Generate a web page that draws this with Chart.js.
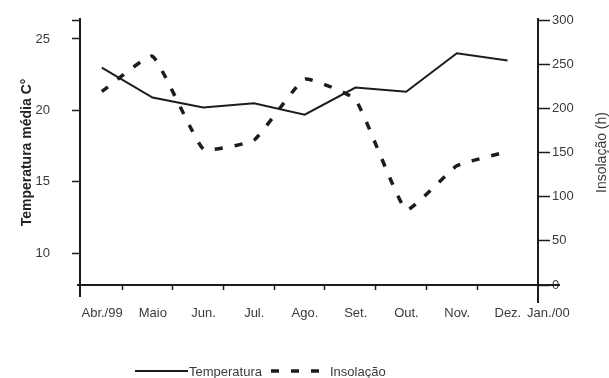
<!DOCTYPE html>
<html>
<head>
<meta charset="utf-8">
<script src="https://cdn.jsdelivr.net/npm/chart.js@4/dist/chart.umd.min.js"></script>
<style>
  html, body { margin: 0; padding: 0; background: #fff; }
  #wrap { width: 609px; height: 378px; }
</style>
</head>
<body>
<div id="wrap"><canvas id="c" width="609" height="378"></canvas></div>
<script>
// Monthly series, April 1999 to January 2000
const months = ['Abr./99', 'Maio', 'Jun.', 'Jul.', 'Ago.', 'Set.', 'Out.', 'Nov.', 'Dez.', 'Jan./00'];
const temperatura = [23.0, 20.9, 20.2, 20.5, 19.7, 21.6, 21.3, 24.0, 23.5];   // °C
const insolacao = [219, 259, 154, 164, 233, 210, 85, 135, 151];            // hours
const tempTicks = [10, 15, 20, 25];
const insolTicks = [0, 50, 100, 150, 200, 250, 300];
const seriesNames = ['Temperatura', 'Insolação'];
const axisTitles = ['Temperatura média C°', 'Insolação (h)'];

const INK = '#1c1c1c';
const TEXT = '#3a3a3a';
const FONT = "'Liberation Sans', Arial, Helvetica, sans-serif";

// x position of each month label (the last one sits just past the right axis)
const monthPos = months.map((m, i) => (i < temperatura.length ? i : 8.8));
// small tick marks sit between months; labels are pulled back onto the month
const TICK_SHIFT = 0.4;
const LABEL_SHIFT_PX = -20;

const toPoints = arr => arr.map((v, i) => ({ x: i, y: v }));

// fixed box sizes so the plot frame sits where it should
const fixBox = (w, h) => s => {
  if (w) s.width = w;
  if (h) s.height = h;
  s.paddingTop = 0; s.paddingBottom = 0; s.paddingLeft = 0; s.paddingRight = 0;
};

// axis extensions, right-hand title and the legend row
const decorations = {
  id: 'decorations',
  afterDraw(chart) {
    const { ctx, chartArea: a } = chart;
    ctx.save();
    ctx.strokeStyle = INK;
    ctx.lineWidth = 2;
    ctx.beginPath();
    ctx.moveTo(a.left - 3, a.bottom); ctx.lineTo(a.right + 22, a.bottom);
    ctx.moveTo(a.left, a.bottom); ctx.lineTo(a.left, a.bottom + 12);
    ctx.moveTo(a.right, a.bottom); ctx.lineTo(a.right, a.bottom + 18);
    ctx.moveTo(a.left, a.top); ctx.lineTo(a.left, a.top - 2);
    ctx.moveTo(a.right, a.top); ctx.lineTo(a.right, a.top - 2);
    ctx.stroke();

    // right axis title, reading upwards
    ctx.save();
    ctx.fillStyle = TEXT;
    ctx.font = `14px ${FONT}`;
    ctx.translate(602, (a.top + a.bottom) / 2);
    ctx.rotate(-Math.PI / 2);
    ctx.textAlign = 'center';
    ctx.textBaseline = 'middle';
    ctx.fillText(axisTitles[1], 0, 0);
    ctx.restore();

    // legend
    const legendY = 371;
    const slots = [{ x: 135, w: 53, gap: 1 }, { x: 271, w: 50, gap: 9 }];
    ctx.font = `13px ${FONT}`;
    ctx.fillStyle = TEXT;
    ctx.textAlign = 'left';
    ctx.textBaseline = 'middle';
    chart.data.datasets.forEach((ds, k) => {
      const s = slots[k];
      ctx.strokeStyle = ds.borderColor;
      ctx.lineWidth = ds.borderWidth;
      ctx.setLineDash(ds.borderDash || []);
      ctx.beginPath();
      ctx.moveTo(s.x, legendY);
      ctx.lineTo(s.x + s.w, legendY);
      ctx.stroke();
      ctx.setLineDash([]);
      ctx.fillText(ds.label, s.x + s.w + s.gap, legendY + 1);
    });
    ctx.restore();
  }
};

new Chart(document.getElementById('c'), {
  type: 'line',
  data: {
    datasets: [
      {
        label: seriesNames[0],
        data: toPoints(temperatura),
        yAxisID: 'yT',
        borderColor: INK,
        borderWidth: 2,
        pointRadius: 0,
        tension: 0,
        fill: false
      },
      {
        label: seriesNames[1],
        data: toPoints(insolacao),
        yAxisID: 'yI',
        borderColor: INK,
        borderWidth: 3.5,
        borderDash: [8, 12],
        pointRadius: 0,
        tension: 0.12,
        fill: false
      }
    ]
  },
  plugins: [decorations],
  options: {
    responsive: false,
    animation: false,
    events: [],
    layout: { padding: { top: 20, left: 0, right: 0, bottom: 43 } },
    plugins: {
      legend: { display: false },
      tooltip: { enabled: false }
    },
    scales: {
      x: {
        type: 'linear',
        min: -0.43,
        max: 8.6,
        afterBuildTicks: s => { s.ticks = monthPos.map(p => ({ value: p + TICK_SHIFT })); },
        afterFit: fixBox(0, 50),
        border: { display: true, color: INK, width: 2 },
        grid: {
          drawOnChartArea: false,
          drawTicks: true,
          tickLength: 5,
          tickWidth: 1.5,
          tickColor: c => (c.index < 8 ? INK : 'rgba(0,0,0,0)')
        },
        ticks: {
          autoSkip: false,
          maxRotation: 0,
          minRotation: 0,
          padding: 16,
          labelOffset: LABEL_SHIFT_PX,
          color: TEXT,
          font: { family: FONT, size: 13 },
          callback: (v, i) => months[i]
        }
      },
      yT: {
        type: 'linear',
        position: 'left',
        min: 7.76,
        max: 26.33,
        afterBuildTicks: s => { s.ticks = tempTicks.concat([s.max]).map(v => ({ value: v })); },
        afterFit: fixBox(80, 0),
        border: { display: true, color: INK, width: 2 },
        grid: { drawOnChartArea: false, tickLength: 8, tickWidth: 1.5, tickColor: INK },
        ticks: {
          padding: 22,
          color: TEXT,
          font: { family: FONT, size: 13 },
          callback: v => (tempTicks.includes(v) ? String(v) : '')
        },
        title: {
          display: true,
          text: axisTitles[0],
          color: '#222',
          font: { family: FONT, size: 14, weight: 'bold' },
          padding: { top: 19, bottom: 0 }
        }
      },
      yI: {
        type: 'linear',
        position: 'right',
        min: 0,
        max: 300,
        afterBuildTicks: s => { s.ticks = insolTicks.map(v => ({ value: v })); },
        afterFit: fixBox(71, 0),
        border: { display: true, color: INK, width: 2 },
        grid: { drawOnChartArea: false, tickLength: 12, tickWidth: 1.5, tickColor: INK },
        ticks: {
          padding: 2,
          color: TEXT,
          font: { family: FONT, size: 13 },
          callback: v => String(v)
        }
      }
    }
  }
});
</script>
</body>
</html>
